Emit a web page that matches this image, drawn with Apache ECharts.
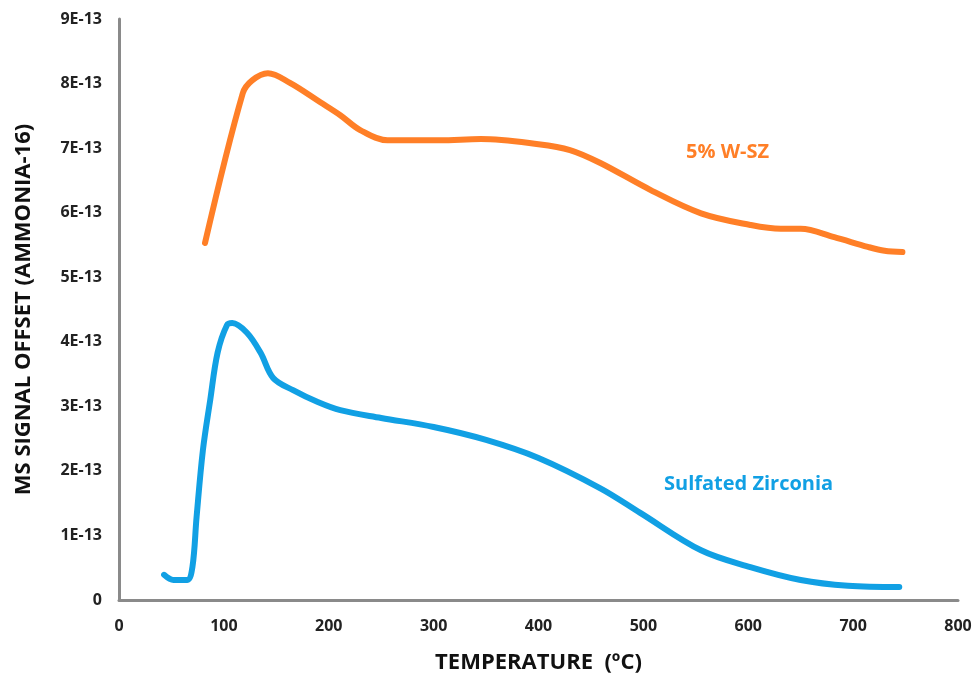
<!DOCTYPE html>
<html><head><meta charset="utf-8">
<script src="https://cdn.jsdelivr.net/npm/echarts@6/dist/echarts.min.js"></script>
<style>html,body{margin:0;padding:0;background:#fff}#c{width:975px;height:682px}</style>
</head><body><div id="c"></div>
<script>
// Temperature (°C)
const wszTemp = [82, 118, 127, 142, 163, 192, 211, 230, 256, 306, 345, 400, 430, 459, 507, 555, 602, 631, 650, 682, 714, 730, 747];
// MS signal (units of 1E-13)
const wszVal  = [5.53, 7.85, 8.05, 8.16, 8.01, 7.71, 7.51, 7.28, 7.12, 7.12, 7.14, 7.06, 6.97, 6.77, 6.35, 5.99, 5.81, 5.75, 5.75, 5.62, 5.47, 5.41, 5.39];

const szTemp = [43, 52, 65, 70, 74, 80, 87, 94, 103, 108, 122, 135, 147, 166, 189, 211, 250, 300, 350, 400, 459, 497, 555, 602, 650, 695, 744];
const szVal  = [0.39, 0.31, 0.31, 0.51, 1.29, 2.32, 3.10, 3.83, 4.26, 4.29, 4.14, 3.83, 3.44, 3.25, 3.07, 2.94, 2.82, 2.68, 2.48, 2.20, 1.73, 1.35, 0.77, 0.51, 0.31, 0.22, 0.20];

const yTicks = [0, 1, 2, 3, 4, 5, 6, 7, 8, 9];
const xTitle = 'TEMPERATURE  (ºC)';
const yTitle = 'MS SIGNAL OFFSET (AMMONIA-16)';
const seriesNames = ['5% W-SZ', 'Sulfated Zirconia'];
const colors = ['#FF7F27', '#11A0E4'];

const E = 1e-13;
const pairs = (xs, ys) => xs.map((x, i) => [x, ys[i] * E]);

const chart = echarts.init(document.getElementById('c'));
const font = '"Open Sans", Lato, sans-serif';
chart.setOption({
  animation: false,
  backgroundColor: '#fff',
  grid: { left: 119, right: 17, top: 19, bottom: 82 },
  xAxis: {
    type: 'value', min: 0, max: 800, interval: 100,
    name: xTitle, nameLocation: 'middle', nameGap: 52,
    nameTextStyle: { fontFamily: font, fontWeight: 'bold', fontSize: 22, color: '#111' },
    axisLine: { show: true, lineStyle: { color: '#8a8a8a', width: 3 } },
    axisTick: { show: false },
    splitLine: { show: false },
    axisLabel: { margin: 18, fontFamily: font, fontWeight: 'bold', fontSize: 16, color: '#222' }
  },
  yAxis: {
    type: 'value', min: 0, max: 9 * E, interval: E,
    name: yTitle, nameLocation: 'middle', nameGap: 84,
    nameTextStyle: { fontFamily: font, fontWeight: 'bold', fontSize: 22, color: '#111' },
    axisLine: { show: true, lineStyle: { color: '#8a8a8a', width: 3 } },
    axisTick: { show: false },
    splitLine: { show: false },
    axisLabel: {
      margin: 17, fontFamily: font, fontWeight: 'bold', fontSize: 16, color: '#222',
      formatter: v => { const n = Math.round(v / E); return yTicks.includes(n) ? (n === 0 ? '0' : n + 'E-13') : ''; }
    }
  },
  series: [
    { name: seriesNames[0], type: 'line', smooth: 0.35, showSymbol: false,
      data: pairs(wszTemp, wszVal), lineStyle: { color: colors[0], width: 6, cap: 'round' }, itemStyle: { color: colors[0] } },
    { name: seriesNames[1], type: 'line', smooth: 0.35, showSymbol: false,
      data: pairs(szTemp, szVal), lineStyle: { color: colors[1], width: 6, cap: 'round' }, itemStyle: { color: colors[1] } }
  ],
  graphic: [
    { type: 'text', left: 686, top: 142, style: { text: seriesNames[0], fill: colors[0], font: 'bold 20px ' + font } },
    { type: 'text', left: 664, top: 474, style: { text: seriesNames[1], fill: colors[1], font: 'bold 20px ' + font } }
  ]
});
</script></body></html>
